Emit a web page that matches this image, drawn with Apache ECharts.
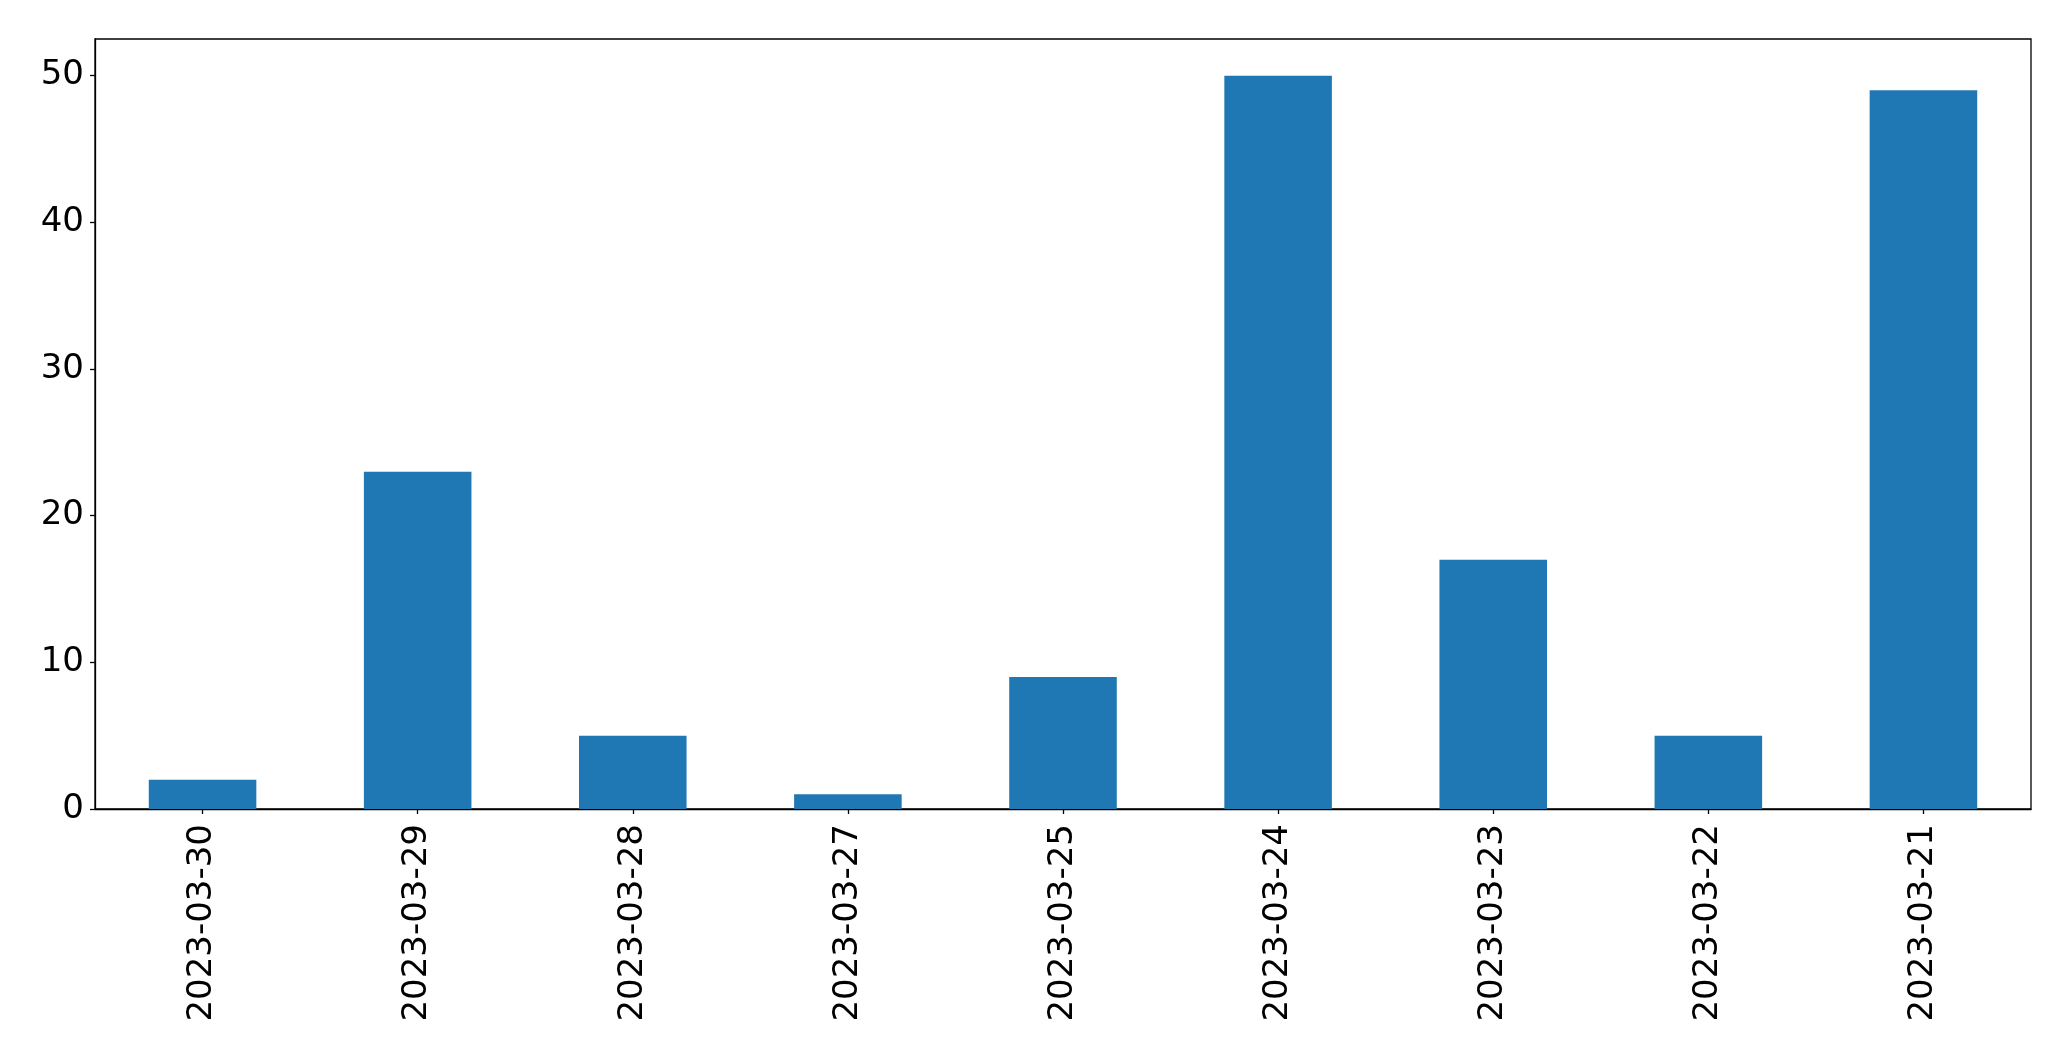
<!DOCTYPE html>
<html>
<head>
<meta charset="utf-8">
<script src="https://cdn.jsdelivr.net/npm/echarts@6/dist/echarts.min.js"></script>
<style>
html,body{margin:0;padding:0;background:#fff;}
#chart{width:2071px;height:1061px;}
</style>
</head>
<body>
<div id="chart"></div>
<script>
const categories = ["2023-03-30","2023-03-29","2023-03-28","2023-03-27","2023-03-25","2023-03-24","2023-03-23","2023-03-22","2023-03-21"];
const values = [2, 23, 5, 1, 9, 50, 17, 5, 49];
const yTicks = [0, 10, 20, 30, 40, 50];

const chart = echarts.init(document.getElementById('chart'), null, {renderer: 'canvas'});
const font = 'DejaVu Sans';
chart.setOption({
  animation: false,
  backgroundColor: '#fff',
  grid: {left: 95, right: 40, top: 39, bottom: 252, show: true, borderColor: '#000', borderWidth: 1.3, backgroundColor: 'transparent'},
  xAxis: {
    type: 'category',
    data: categories,
    boundaryGap: true,
    axisLine: {show: true, lineStyle: {color: '#000', width: 1.3}},
    axisTick: {show: true, alignWithLabel: true, length: 5, lineStyle: {color: '#000', width: 1.3}},
    axisLabel: {rotate: 90, margin: 15, fontSize: 34, color: '#000', fontFamily: font, interval: 0},
    splitLine: {show: false}
  },
  yAxis: {
    type: 'value',
    min: 0,
    max: 52.5,
    interval: 10,
    axisLine: {show: true, lineStyle: {color: '#000', width: 1.3}},
    axisTick: {show: true, length: 5, lineStyle: {color: '#000', width: 1.3}, customValues: yTicks},
    axisLabel: {margin: 11, fontSize: 34, color: '#000', fontFamily: font, customValues: yTicks},
    splitLine: {show: false}
  },
  series: [{
    type: 'bar',
    data: values,
    barWidth: '50%',
    itemStyle: {color: '#1f77b4'}
  }]
});
</script>
</body>
</html>
